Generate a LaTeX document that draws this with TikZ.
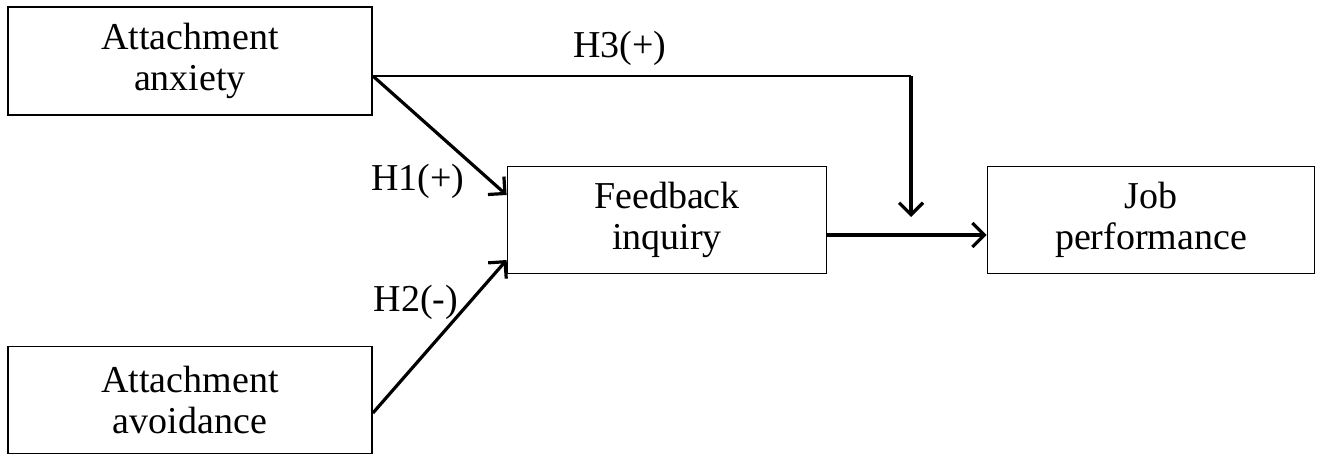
\documentclass[tikz,border=0pt]{standalone}
\usepackage{fontspec}
\setmainfont{Liberation Serif}
\usetikzlibrary{arrows.meta}
\begin{document}
\begin{tikzpicture}[x=1pt,y=-1pt,
  box/.style={draw,line width=1.8pt,inner sep=0pt,align=center,font=\fontsize{38}{41}\selectfont},
  lbl/.style={font=\fontsize{38}{41}\selectfont,inner sep=0pt},
  conn/.style={line width=3.2pt,-{Straight Barb[length=12pt,width=24pt,line width=3.2pt]}}]
\useasboundingbox (0,0) rectangle (1333,456);
\node[box,minimum width=364pt,minimum height=108pt] (anx) at (190,61) {Attachment\\anxiety};
\node[box,minimum width=364pt,minimum height=107pt] (avo) at (190,400) {Attachment\\avoidance};
\node[box,minimum width=319pt,minimum height=107pt] (fb) at (667,220) {Feedback\\inquiry};
\node[box,minimum width=327pt,minimum height=107pt] (job) at (1151,220) {Job\\performance};
\coordinate (a1) at ([yshift=-15pt]anx.east);
\coordinate (a2) at ([yshift=-13pt]avo.east);
\coordinate (f1) at ([yshift=25pt]fb.west);
\coordinate (f2) at ([yshift=-40pt]fb.west);
\coordinate (corner) at (911,76);
\coordinate (drop) at (911,217);
\draw[conn] (a1) -- (f1);
\draw[conn] (a2) -- (f2);
\draw[conn] (fb.east |- 0,235) -- (job.west |- 0,235);
\draw[line width=1.8pt] (anx.east |- corner) -- (corner);
\draw[conn] (corner) -- (drop);
\node[lbl] (h1) at (418,181) {H1(+)};
\node[lbl] (h2) at (416,302) {H2(-)};
\node[lbl] (h3) at (620,48) {H3(+)};
\end{tikzpicture}
\end{document}
